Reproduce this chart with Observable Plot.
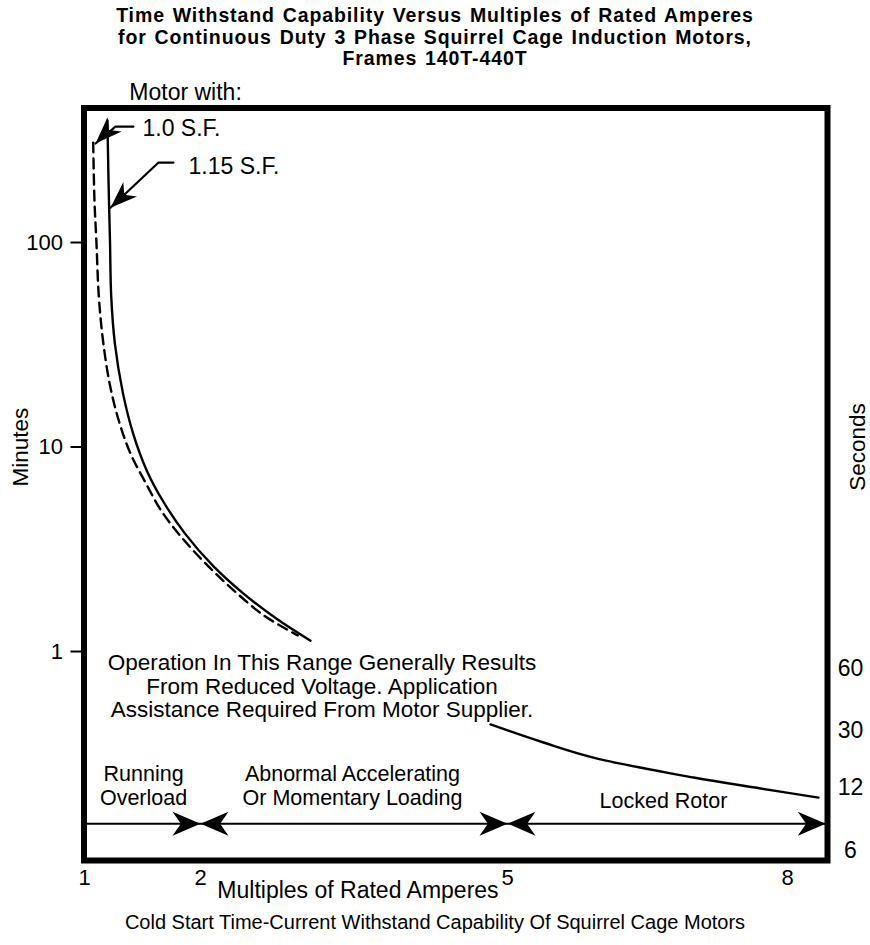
<!DOCTYPE html>
<html>
<head>
<meta charset="utf-8">
<script src="https://cdn.jsdelivr.net/npm/d3@7"></script>
<script src="https://cdn.jsdelivr.net/npm/@observablehq/plot@0.6"></script>
<style>
  body { margin: 0; background: #fff; font-family: "Liberation Sans", Arial, Helvetica, sans-serif; color: #000; }
  #title { width: 870px; height: 72px; box-sizing: border-box; padding-top: 5px; text-align: center;
           font-weight: bold; font-size: 19.5px; line-height: 21.6px; letter-spacing: 0.9px; word-spacing: 1.5px; }
  #chart svg { display: block; }
  #caption { width: 870px; text-align: center; font-size: 20px; line-height: 24px; }
</style>
</head>
<body>
<div id="title">Time Withstand Capability Versus Multiples of Rated Amperes<br>for Continuous Duty 3 Phase Squirrel Cage Induction Motors,<br>Frames 140T-440T</div>
<div id="chart"></div>
<div id="caption">Cold Start Time-Current Withstand Capability Of Squirrel Cage Motors</div>
<script>
// ---- data (multiples of rated amperes, minutes) ----
const xTicks = [1, 2, 5, 8];
const minuteTicks = [1, 10, 100];
const secondsLabels = ["60", "30", "12", "6"];
const secondsAt = [0.826, 0.411, 0.216, 0.106];   // minutes where the seconds labels sit

// 1.15 S.F. (solid) — gap where the curve passes behind the note
const solidX = [1.198, 1.207, 1.220, 1.230, 1.262, 1.330, 1.420, 1.540, 1.680, 1.870, 2.130, 2.420, 2.740, 3.075, null, 4.834, 5.386, 5.921, 6.993, 7.711, 8.332];
const solidY = [395, 201, 100, 55, 32, 18.5, 11.6, 7.6, 5.4, 3.75, 2.6, 1.92, 1.45, 1.13, null, 0.44, 0.359, 0.303, 0.242, 0.214, 0.193];
// 1.0 S.F. (dashed)
const dashX = [1.075, 1.086, 1.103, 1.123, 1.160, 1.220, 1.300, 1.400, 1.520, 1.660, 1.840, 2.080, 2.330, 2.620, 2.950];
const dashY = [308, 160, 100, 55, 33, 20, 13.2, 9.2, 6.8, 4.9, 3.6, 2.6, 1.98, 1.50, 1.20];

// leaders for the series labels
const leader10X = [1.422, 1.267, 1.095];
const leader10Y = [369, 369, 305];
const leader115X = [1.767, 1.638, 1.224];
const leader115Y = [246, 246, 148];

// operating ranges along the bottom
const rangeY = 0.144;
const rangeStart = 1, rangeEnd = 8.41;
const rangeBounds = [2, 5];
const rangeNames = ["Running\nOverload", "Abnormal Accelerating\nOr Momentary Loading", "Locked Rotor"];
const rangeLabelX = [1.509, 3.485, 6.671];
const rangeLabelY = [0.221, 0.221, 0.187];

const noteText = "Operation In This Range Generally Results\nFrom Reduced Voltage. Application\nAssistance Required From Motor Supplier.";

// ---- helpers ----
function dart(angleDeg, L, W) {
  const a = angleDeg * Math.PI / 180, c = Math.cos(a), s = Math.sin(a);
  const pts = [[0, 0], [-L, -W / 2], [-0.7 * L, 0], [-L, W / 2]];
  return {
    draw(ctx, size) {
      const r = Math.sqrt(size / Math.PI);
      pts.forEach(([px, py], i) => {
        const X = (px * c - py * s) * r, Y = (px * s + py * c) * r;
        i ? ctx.lineTo(X, Y) : ctx.moveTo(X, Y);
      });
      ctx.closePath();
    }
  };
}
const zip = (xs, ys) => xs.map((x, i) => ({x, y: ys[i]}));

const solid = zip(solidX, solidY);
const dashed = zip(dashX, dashY);
const leader10 = zip(leader10X, leader10Y);
const leader115 = zip(leader115X, leader115Y);
const ranges = rangeNames.map((t, i) => ({t, x: rangeLabelX[i], y: rangeLabelY[i]}));
const secs = secondsLabels.map((t, i) => ({t, y: secondsAt[i]}));

const font = "Liberation Sans, Arial, Helvetica, sans-serif";

const chart = Plot.plot({
  width: 870,
  height: 838,
  marginTop: 35.5,
  marginBottom: 50,
  marginLeft: 83.5,
  marginRight: 43,
  style: {fontFamily: font, fontSize: "22px", color: "#000", background: "#fff", overflow: "visible"},
  x: {type: "linear", domain: [1, 2, 5, 8], range: [84, 200, 507, 787]},
  y: {type: "log", domain: [0.0951, 454.7]},
  marks: [
    Plot.axisY({ticks: minuteTicks, tickSize: 13, tickPadding: 8, fontSize: 22, strokeWidth: 2, tickFormat: d => String(d), label: null}),
    Plot.axisX({ticks: xTicks, tickSize: 0, tickPadding: 9, fontSize: 22, tickFormat: d => String(d), label: null}),
    // curves
    Plot.line(dashed, {x: "x", y: "y", stroke: "black", strokeWidth: 2.4, strokeDasharray: "10,6", curve: "catmull-rom"}),
    Plot.line(solid, {x: "x", y: "y", stroke: "black", strokeWidth: 2.4, curve: "catmull-rom"}),
    // series label leaders
    Plot.line(leader10, {x: "x", y: "y", stroke: "black", strokeWidth: 2.2}),
    Plot.line(leader115, {x: "x", y: "y", stroke: "black", strokeWidth: 2.2}),
    Plot.dot([leader10[2]], {x: "x", y: "y", r: 1, fill: "black", stroke: "none", symbol: dart(Math.atan2(20, -20) * 180 / Math.PI, 27, 20)}),
    Plot.dot([leader115[2]], {x: "x", y: "y", r: 1, fill: "black", stroke: "none", symbol: dart(Math.atan2(45, -48) * 180 / Math.PI, 27, 20)}),
    Plot.text(["1.0 S.F."], {x: 1.5, y: 361, textAnchor: "start", fontSize: 23}),
    Plot.text(["1.15 S.F."], {x: 1.897, y: 235, textAnchor: "start", fontSize: 23}),
    // note
    Plot.text([noteText], {x: 3.187, y: 0.675, fontSize: 22.5, lineHeight: 1.045, textAnchor: "middle"}),
    // ranges
    Plot.ruleY([rangeY], {x1: rangeStart, x2: rangeEnd, stroke: "black", strokeWidth: 2}),
    Plot.dot(rangeBounds.concat([rangeEnd]), {x: d => d, y: () => rangeY, r: 1, fill: "black", stroke: "none", symbol: dart(0, 28, 24)}),
    Plot.dot(rangeBounds, {x: d => d, y: () => rangeY, r: 1, fill: "black", stroke: "none", symbol: dart(180, 28, 24)}),
    Plot.text(ranges, {x: "x", y: "y", text: "t", fontSize: 21.5, lineHeight: 1.12}),
    // outside labels
    Plot.text(["Motor with:"], {x: 1.871, y: 541, fontSize: 23}),
    Plot.text(["Minutes"], {y: 10, frameAnchor: "left", dx: -63, rotate: -90, textAnchor: "middle", fontSize: 22.5}),
    Plot.text(["Seconds"], {y: 10, frameAnchor: "right", dx: 30, rotate: -90, textAnchor: "middle", fontSize: 22.5}),
    Plot.text(secs, {y: "y", text: "t", frameAnchor: "right", dx: 23, textAnchor: "middle", fontSize: 23}),
    Plot.text(["Multiples of Rated Amperes"], {x: 3.539, frameAnchor: "bottom", dy: 37, fontSize: 23}),
    Plot.frame({stroke: "black", strokeWidth: 6})
  ]
});
document.getElementById("chart").appendChild(chart);
</script>
</body>
</html>
